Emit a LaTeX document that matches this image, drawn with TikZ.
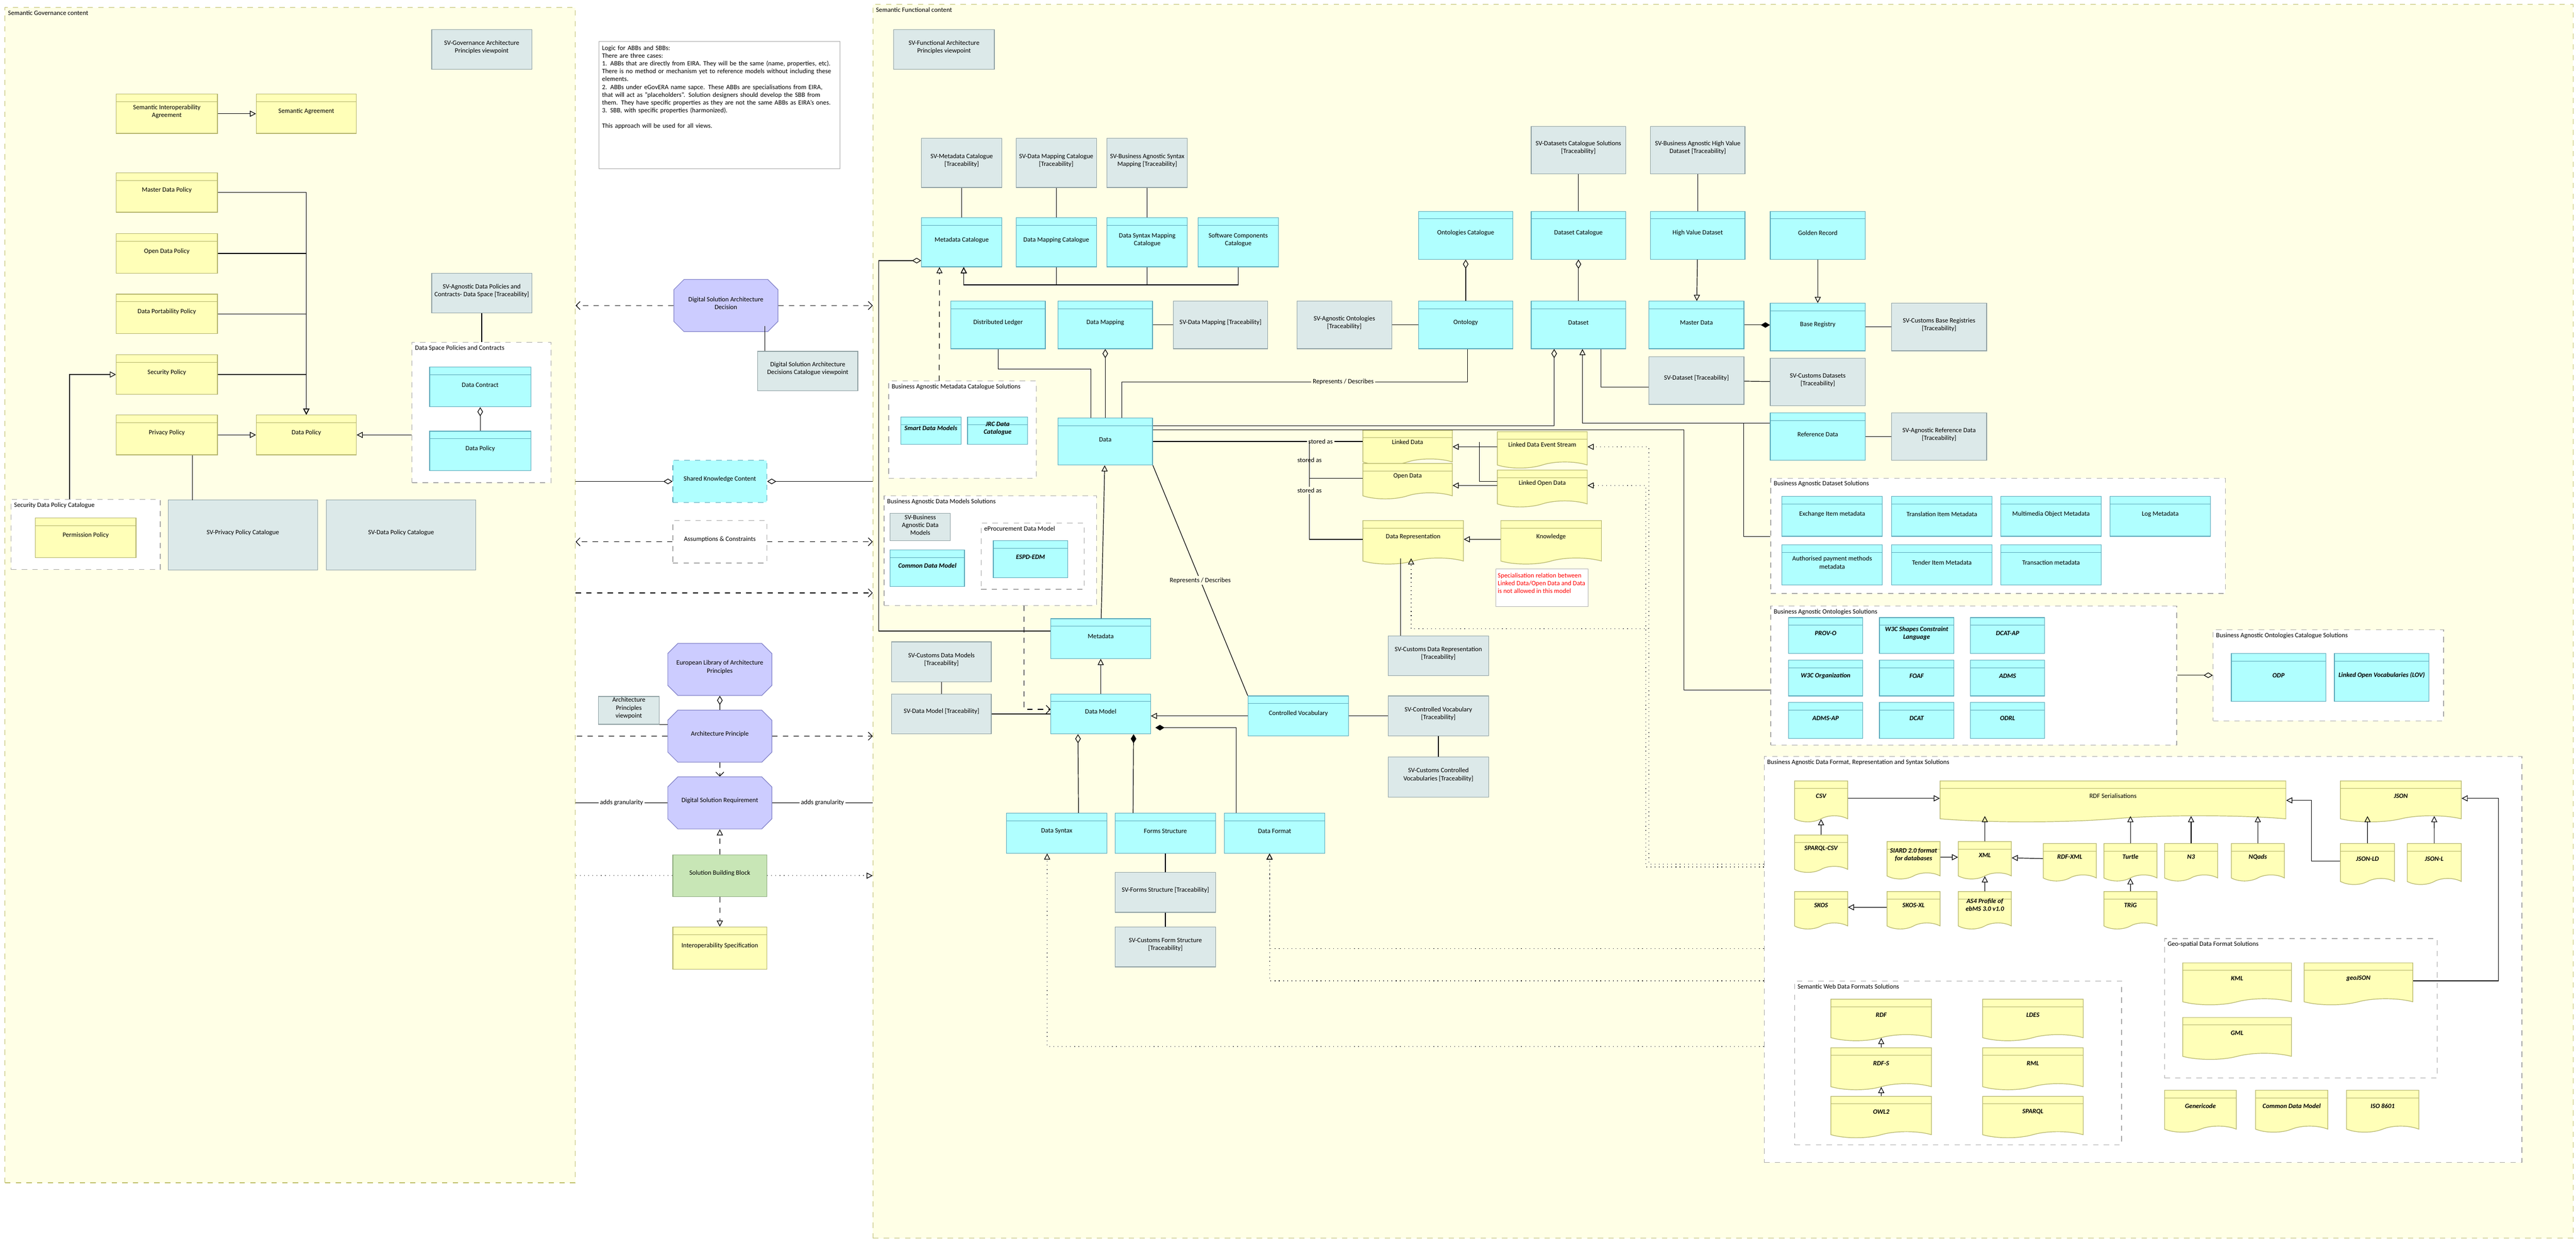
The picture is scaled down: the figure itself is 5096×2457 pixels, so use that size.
\documentclass[tikz,border=0pt]{standalone}
\usepackage{fontspec}
\setmainfont{Carlito}
\usetikzlibrary{arrows.meta,calc,positioning,fit,shapes.symbols,shapes.misc}
\definecolor{cyanf}{HTML}{B0FFFF}
\definecolor{cyand}{HTML}{5AA8BA}
\definecolor{yelf}{HTML}{FFFFB8}
\definecolor{yeld}{HTML}{B4B46A}
\definecolor{svf}{HTML}{DCE9E9}
\definecolor{svd}{HTML}{8FA0A3}
\definecolor{purf}{HTML}{CCCCFF}
\definecolor{purd}{HTML}{8080C8}
\definecolor{grnf}{HTML}{C8E6B6}
\definecolor{grnd}{HTML}{8CAA7C}
\definecolor{bgf}{HTML}{FFFFE6}
\definecolor{bgd}{HTML}{BDBD66}
\tikzstyle{hdr} = [path picture={\draw[line width=0.3pt] ([yshift=-1.5mm]path picture bounding box.north west) -- ([yshift=-1.5mm]path picture bounding box.north east);}]
\tikzstyle{abb} = [draw=cyand, fill=cyanf, inner sep=0pt, align=center, hdr]
\tikzstyle{yel} = [draw=yeld, fill=yelf, inner sep=0pt, align=center, hdr]
\tikzstyle{rep} = [tape, tape bend top=none, tape bend height=1.2mm, draw=yeld, fill=yelf, inner sep=0pt, align=center, hdr]
\tikzstyle{sv} = [draw=svd, fill=svf, inner sep=0pt, align=center]
\tikzstyle{pur} = [chamfered rectangle, chamfered rectangle xsep=1mm, chamfered rectangle ysep=1mm, draw=purd, fill=purf, inner sep=0pt, align=center]
\tikzstyle{grn} = [draw=grnd, fill=grnf, inner sep=0pt, align=center]
\tikzstyle{grp} = [draw=gray!70, dashed, fill=white, inner sep=0pt]
\tikzstyle{grplbl} = [anchor=north west, inner sep=0.6mm]
\tikzstyle{sol} = [font=\fontsize{3.7}{4.4}\selectfont\bfseries\itshape]
\tikzstyle{spec} = [-{Triangle[open,length=1.2mm,width=1.2mm]}]
\tikzstyle{agg} = [{Diamond[open,length=1.8mm,width=1.1mm]}-]
\tikzstyle{comp} = [{Diamond[length=1.8mm,width=1.1mm]}-]
\tikzstyle{dep} = [dashed, -{Straight Barb[length=0.8mm]}]
\begin{document}
\begin{tikzpicture}[x=0.1mm, y=-0.1mm, line width=0.35pt,
  every node/.style={font=\fontsize{3.7}{4.4}\selectfont}]
\useasboundingbox (0,0) rectangle (5096,2457);
% containers
\node[draw=bgd, dashed, fill=bgf, inner sep=0pt, fit={(10,15) (1138,2340)}] (govc) {};
\node[grplbl] (govcl) at (govc.north west) {Semantic Governance content};
\node[draw=bgd, dashed, fill=bgf, inner sep=0pt, fit={(1727,9) (5090,2450)}] (func) {};
\node[grplbl] (funcl) at (func.north west) {Semantic Functional content};
\coordinate (c1173) at (0,1173);
% groups
\node[grp, fit={(815,677) (1090,955)}] (dspc) {};
\node[grplbl] (dspcl) at (dspc.north west) {Data Space Policies and Contracts};
\node[grp, fit={(22,988) (317,1127)}] (sdpc) {};
\node[grplbl] (sdpcl) at (sdpc.north west) {Security Data Policy Catalogue};
\node[grp, fit={(1758,754) (2050,946)}] (bamcs) {};
\node[grplbl] (bamcsl) at (bamcs.north west) {Business Agnostic Metadata Catalogue Solutions};
\node[grp, fit={(1749,981) (2169,1198)}] (badms) {};
\node[grplbl] (badmsl) at (badms.north west) {Business Agnostic Data Models Solutions};
\node[grp, fit={(1941,1035) (2145,1166)}] (eproc) {};
\node[grplbl] (eprocl) at (eproc.north west) {eProcurement Data Model};
\node[grp, fit={(3503,946) (4402,1174)}] (bads) {};
\node[grplbl] (badsl) at (bads.north west) {Business Agnostic Dataset Solutions};
\node[grp, fit={(3503,1199) (4306,1474)}] (baos) {};
\node[grplbl] (baosl) at (baos.north west) {Business Agnostic Ontologies Solutions};
\node[grp, fit={(4378,1246) (4834,1426)}] (baocs) {};
\node[grplbl] (baocsl) at (baocs.north west) {Business Agnostic Ontologies Catalogue Solutions};
\node[grp, fit={(3490,1497) (4989,2300)}] (badf) {};
\node[grplbl] (badfl) at (badf.north west) {Business Agnostic Data Format, Representation and Syntax Solutions};
\node[grp, fit={(4282,1857) (4821,2133)}] (geo) {};
\node[grplbl] (geol) at (geo.north west) {Geo-spatial Data Format Solutions};
\node[grp, fit={(3550,1941) (4197,2265)}] (sw) {};
\node[grplbl] (swl) at (sw.north west) {Semantic Web Data Formats Solutions};
% governance
\node[sv, fit={(854,59) (1052,137)}] (svgov) {SV-Governance Architecture\\Principles viewpoint};
\node[yel, fit={(230,186) (430,264)}] (sia) {Semantic Interoperability\\Agreement};
\node[yel, fit={(507,186) (705,264)}] (sag) {Semantic Agreement};
\node[yel, fit={(230,342) (430,420)}] (mdp) {Master Data Policy};
\node[yel, fit={(230,462) (430,541)}] (odp) {Open Data Policy};
\node[yel, fit={(230,582) (430,660)}] (dpp) {Data Portability Policy};
\node[yel, fit={(230,702) (430,780)}] (secp) {Security Policy};
\node[yel, fit={(230,821) (430,900)}] (prip) {Privacy Policy};
\node[yel, fit={(507,821) (705,900)}] (dpol) {Data Policy};
\node[sv, fit={(854,541) (1052,619)}] (svdpc) {SV-Agnostic Data Policies and\\Contracts- Data Space [Traceability]};
\node[abb, fit={(850,726) (1050,805)}] (dcon) {Data Contract};
\node[abb, fit={(850,853) (1050,931)}] (dpol2) {Data Policy};
\node[yel, fit={(70,1025) (269,1103)}] (perm) {Permission Policy};
\node[sv, fit={(333,989) (628,1128)}] (svppc) {SV-Privacy Policy Catalogue};
\node[sv, fit={(646,989) (941,1128)}] (svdpcat) {SV-Data Policy Catalogue};
% middle
\node[draw=gray!70, fill=white, inner sep=0pt, fit={(1185,82) (1662,334)}] (logic) {};
\node[anchor=north west, text width=46mm, align=left, inner sep=0pt] (logict) at ($(logic.north west)+(6,8)$)
 {Logic for ABBs and SBBs:\\There are three cases:\\1. ABBs that are directly from EIRA. They will be the same (name, properties, etc). There is no method or mechanism yet to reference models without including these elements.\\2. ABBs under eGovERA name sapce. These ABBs are specialisations from EIRA, that will act as "placeholders". Solution designers should develop the SBB from them. They have specific properties as they are not the same ABBs as EIRA's ones.\\3. SBB, with specific properties (harmonized).\\[4.4pt]This approach will be used for all views.};
\node[pur, fit={(1343,563) (1529,646)}] (dsad) {Digital Solution Architecture\\Decision};
\node[sv, fit={(1499,695) (1697,773)}] (dsadv) {Digital Solution Architecture\\Decisions Catalogue viewpoint};
\node[draw=cyand, dashed, fill=cyanf, inner sep=0pt, fit={(1331,911) (1517,994)}] (skc) {Shared Knowledge Content};
\node[draw=gray!70, dashed, fill=white, inner sep=0pt, fit={(1331,1030) (1517,1114)}] (assm) {Assumptions \& Constraints};
\node[pur, fit={(1331,1283) (1517,1366)}] (eula) {European Library of Architecture\\Principles};
\node[sv, fit={(1184,1378) (1304,1433)}] (apv) {Architecture\\Principles\\viewpoint};
\node[pur, fit={(1331,1415) (1517,1498)}] (ap) {Architecture Principle};
\node[pur, fit={(1331,1547) (1517,1630)}] (dsr) {Digital Solution Requirement};
\node[grn, fit={(1331,1691) (1517,1774)}] (sbb) {Solution Building Block};
\node[yel, fit={(1331,1834) (1517,1918)}] (isp) {Interoperability Specification};
% functional
\node[sv, fit={(1768,59) (1967,137)}] (svfap) {SV-Functional Architecture\\Principles viewpoint};
\node[sv, fit={(1823,274) (1982,371)}] (svmc) {SV-Metadata Catalogue\\{[Traceability]}};
\node[sv, fit={(2010,274) (2169,371)}] (svdmc) {SV-Data Mapping Catalogue\\{[Traceability]}};
\node[sv, fit={(2190,274) (2349,371)}] (svbasm) {SV-Business Agnostic Syntax\\Mapping [Traceability]};
\node[abb, fit={(1823,431) (1982,528)}] (mcat) {Metadata Catalogue};
\node[abb, fit={(2010,431) (2169,528)}] (dmcat) {Data Mapping Catalogue};
\node[abb, fit={(2190,431) (2349,528)}] (dsmcat) {Data Syntax Mapping\\Catalogue};
\node[abb, fit={(2370,431) (2529,528)}] (sccat) {Software Components\\Catalogue};
\node[abb, fit={(1881,596) (2068,690)}] (dl) {Distributed Ledger};
\node[abb, fit={(2093,596) (2280,690)}] (dmap) {Data Mapping};
\node[sv, fit={(2321,596) (2508,690)}] (svdm) {SV-Data Mapping [Traceability]};
\node[sv, fit={(2566,596) (2753,690)}] (svao) {SV-Agnostic Ontologies\\{[Traceability]}};
\node[sv, fit={(3029,250) (3216,344)}] (svdcs) {SV-Datasets Catalogue Solutions\\{[Traceability]}};
\node[sv, fit={(3265,250) (3452,344)}] (svhvd) {SV-Business Agnostic High Value\\Dataset [Traceability]};
\node[abb, fit={(2806,418) (2993,513)}] (ocat) {Ontologies Catalogue};
\node[abb, fit={(3029,418) (3216,513)}] (dscat) {Dataset Catalogue};
\node[abb, fit={(3265,418) (3452,513)}] (hvd) {High Value Dataset};
\node[abb, fit={(3502,418) (3690,513)}] (gold) {Golden Record};
\node[abb, fit={(2806,596) (2993,690)}] (onto) {Ontology};
\node[abb, fit={(3029,596) (3216,690)}] (dset) {Dataset};
\node[abb, fit={(3262,596) (3450,690)}] (mdata) {Master Data};
\node[abb, fit={(3502,600) (3690,694)}] (breg) {Base Registry};
\node[sv, fit={(3742,600) (3930,694)}] (svcbr) {SV-Customs Base Registries\\{[Traceability]}};
\node[sv, fit={(3262,706) (3450,800)}] (svds) {SV-Dataset [Traceability]};
\node[sv, fit={(3502,709) (3690,803)}] (svcds) {SV-Customs Datasets\\{[Traceability]}};
\node[abb, fit={(3502,817) (3690,911)}] (refd) {Reference Data};
\node[sv, fit={(3742,817) (3930,911)}] (svard) {SV-Agnostic Reference Data\\{[Traceability]}};
\node[abb, sol, fit={(1782,825) (1901,879)}] (sdm) {Smart Data Models};
\node[abb, sol, fit={(1914,825) (2033,879)}] (jrc) {JRC Data\\Catalogue};
\node[abb, fit={(2093,827) (2280,920)}] (data) {Data};
\node[sv, fit={(1761,1016) (1880,1070)}] (svbadm) {SV-Business\\Agnostic Data\\Models};
\node[abb, sol, fit={(1761,1088) (1908,1160)}] (cdm) {Common Data Model};
\node[abb, sol, fit={(1965,1070) (2112,1143)}] (espd) {ESPD-EDM};
\node[rep, fit={(2696,851) (2873,908)}] (ld) {Linked Data};
\node[rep, fit={(2962,854) (3140,914)}] (ldes) {Linked Data Event Stream};
\node[rep, fit={(2696,917) (2873,975)}] (opd) {Open Data};
\node[rep, fit={(2962,930) (3140,991)}] (lod) {Linked Open Data};
\node[rep, fit={(2696,1030) (2895,1104)}] (drep) {Data Representation};
\node[rep, fit={(2969,1030) (3168,1104)}] (know) {Knowledge};
\node[draw=gray!60, fill=white, inner sep=0pt, fit={(2959,1126) (3142,1200)}] (rednote) {};
\node[anchor=north west, text=red, align=left, inner sep=0pt] (rednotet) at ($(rednote.north west)+(4,8)$) {Specialisation relation between\\Linked Data/Open Data and Data\\is not allowed in this model};
\node[abb, fit={(2079,1224) (2276,1303)}] (meta) {Metadata};
\node[sv, fit={(1764,1270) (1961,1349)}] (svcdm) {SV-Customs Data Models\\{[Traceability]}};
\node[sv, fit={(1764,1373) (1961,1452)}] (svdmod) {SV-Data Model [Traceability]};
\node[abb, fit={(2079,1373) (2276,1452)}] (dmod) {Data Model};
\node[abb, fit={(2469,1377) (2668,1456)}] (cvoc) {Controlled Vocabulary};
\node[sv, fit={(2746,1258) (2945,1337)}] (svcdr) {SV-Customs Data Representation\\{[Traceability]}};
\node[sv, fit={(2746,1377) (2945,1456)}] (svcv) {SV-Controlled Vocabulary\\{[Traceability]}};
\node[sv, fit={(2746,1498) (2945,1577)}] (svccv) {SV-Customs Controlled\\Vocabularies [Traceability]};
\node[abb, fit={(1991,1609) (2190,1688)}] (dsyn) {Data Syntax};
\node[abb, fit={(2206,1609) (2405,1688)}] (fstr) {Forms Structure};
\node[abb, fit={(2422,1609) (2621,1688)}] (dfmt) {Data Format};
\node[sv, fit={(2206,1726) (2405,1805)}] (svfs) {SV-Forms Structure [Traceability]};
\node[sv, fit={(2206,1834) (2405,1913)}] (svcfs) {SV-Customs Form Structure\\{[Traceability]}};
% dataset solutions
\node[abb, fit={(3525,982) (3724,1061)}] (eim) {Exchange Item metadata};
\node[abb, fit={(3742,982) (3941,1061)}] (tim) {Translation Item Metadata};
\node[abb, fit={(3958,982) (4157,1061)}] (mom) {Multimedia Object Metadata};
\node[abb, fit={(4174,982) (4373,1061)}] (logm) {Log Metadata};
\node[abb, fit={(3525,1078) (3724,1157)}] (apm) {Authorised payment methods\\metadata};
\node[abb, fit={(3742,1078) (3941,1157)}] (tenm) {Tender Item Metadata};
\node[abb, fit={(3958,1078) (4157,1157)}] (trm) {Transaction metadata};
% ontologies solutions
\node[abb, sol, fit={(3538,1222) (3685,1293)}] (provo) {PROV-O};
\node[abb, sol, fit={(3718,1222) (3865,1293)}] (shacl) {W3C Shapes Constraint\\Language};
\node[abb, sol, fit={(3898,1222) (4045,1293)}] (dcatap) {DCAT-AP};
\node[abb, sol, fit={(3538,1306) (3685,1377)}] (w3corg) {W3C Organization};
\node[abb, sol, fit={(3718,1306) (3865,1377)}] (foaf) {FOAF};
\node[abb, sol, fit={(3898,1306) (4045,1377)}] (adms) {ADMS};
\node[abb, sol, fit={(3538,1390) (3685,1461)}] (admsap) {ADMS-AP};
\node[abb, sol, fit={(3718,1390) (3865,1461)}] (dcat) {DCAT};
\node[abb, sol, fit={(3898,1390) (4045,1461)}] (odrl) {ODRL};
\node[abb, sol, fit={(4414,1293) (4601,1388)}] (odpn) {ODP};
\node[abb, sol, fit={(4618,1293) (4805,1388)}] (lov) {Linked Open Vocabularies (LOV)};
% data format solutions
\node[rep, sol, fit={(3550,1545) (3655,1614)}] (csv) {CSV};
\node[rep, fit={(3838,1545) (4522,1614)}] (rdfs) {RDF Serialisations};
\node[rep, sol, fit={(4630,1545) (4869,1614)}] (json) {JSON};
\node[rep, sol, fit={(3550,1652) (3655,1714)}] (sparqlcsv) {SPARQL-CSV};
\node[rep, sol, fit={(3733,1665) (3838,1727)}] (siard) {SIARD 2.0 format\\for databases};
\node[rep, sol, fit={(3874,1665) (3979,1727)}] (xml) {XML};
\node[rep, sol, fit={(4042,1669) (4147,1731)}] (rdfxml) {RDF-XML};
\node[rep, sol, fit={(4162,1669) (4267,1731)}] (turtle) {Turtle};
\node[rep, sol, fit={(4282,1669) (4387,1731)}] (nthree) {N3};
\node[rep, sol, fit={(4414,1669) (4519,1731)}] (nquads) {NQads};
\node[rep, sol, fit={(4630,1669) (4737,1738)}] (jsonld) {JSON-LD};
\node[rep, sol, fit={(4762,1669) (4869,1738)}] (jsonl) {JSON-L};
\node[rep, sol, fit={(3550,1764) (3655,1826)}] (skos) {SKOS};
\node[rep, sol, fit={(3733,1764) (3838,1826)}] (skosxl) {SKOS-XL};
\node[rep, sol, fit={(3874,1764) (3979,1826)}] (asfour) {AS4 Profile of\\ebMS 3.0 v1.0};
\node[rep, sol, fit={(4162,1764) (4267,1826)}] (trig) {TRiG};
\node[rep, sol, fit={(4318,1905) (4533,1976)}] (kml) {KML};
\node[rep, sol, fit={(4558,1905) (4773,1976)}] (geojson) {geoJSON};
\node[rep, sol, fit={(4318,2013) (4533,2084)}] (gml) {GML};
\node[rep, sol, fit={(3622,1977) (3821,2047)}] (rdf) {RDF};
\node[rep, sol, fit={(3922,1977) (4121,2047)}] (ldesf) {LDES};
\node[rep, sol, fit={(3622,2073) (3821,2144)}] (rdfschema) {RDF-S};
\node[rep, sol, fit={(3922,2073) (4121,2144)}] (rml) {RML};
\node[rep, sol, fit={(3622,2169) (3821,2239)}] (owltwo) {OWL2};
\node[rep, sol, fit={(3922,2169) (4121,2239)}] (sparql) {SPARQL};
\node[rep, sol, fit={(4282,2157) (4424,2228)}] (gcode) {Genericode};
\node[rep, sol, fit={(4462,2157) (4605,2228)}] (cdmy) {Common Data Model};
\node[rep, sol, fit={(4642,2157) (4785,2228)}] (iso) {ISO 8601};
% governance relations
\draw[spec] (sia) -- (sag);
\draw[spec] (mdp) -| (dpol);
\draw[spec] (odp) -| (dpol);
\draw[spec] (dpp) -| (dpol);
\draw[spec] (secp) -| (dpol);
\draw[spec] (prip) -- (dpol);
\draw[spec] (dspc.west |- dpol.east) -- (dpol.east);
\draw[agg] (dcon) -- (dpol2);
\draw (svdpc) -- (svdpc.south |- dspc.north);
\draw[spec] ($(sdpc.north)+(-32,0)$) |- (secp.west);
\draw ($(prip.south)+(51,0)$) -- ($(prip.south)+(51,89)$);
% cross relations
\draw[dep] (dsad) -- (govc.east |- dsad);
\draw[dep] (dsad) -- (func.west |- dsad);
\draw ($(dsadv.north west)+(15,0)$) -- ($(dsadv.north west)+(15,-49)$);
\draw[agg] (skc.west) -- (govc.east |- skc.west);
\draw[agg] (skc.east) -- (func.west |- skc.east);
\draw[dep] (assm) -- (govc.east |- assm);
\draw[dep] (assm) -- (func.west |- assm);
\draw[dep] (govc.east |- c1173) -- (func.west |- c1173);
\draw[agg] (eula) -- (ap);
\draw (apv.south east) -- (ap.west |- apv.south east);
\draw[dashed] (ap) -- (govc.east |- ap);
\draw[dep] (ap) -- (func.west |- ap);
\draw[dep] (ap) -- (dsr);
\draw (dsr) -- node[fill=white, inner sep=0.3mm] {adds granularity} (govc.east |- dsr);
\draw (dsr) -- node[fill=white, inner sep=0.3mm] {adds granularity} (func.west |- dsr);
\draw[dotted] (sbb) -- (govc.east |- sbb);
\draw[dotted, spec] (sbb) -- (func.west |- sbb);
\draw[dashed, spec] (sbb) -- (dsr);
\draw[dashed, spec] (sbb) -- (isp);
% functional relations
\draw (svmc) -- (mcat);
\draw (svdmc) -- (dmcat);
\draw (svbasm) -- (dsmcat);
\draw[spec] (dmcat.south) |- ($(mcat.south)+(4,35)$) -- ($(mcat.south)+(4,0)$);
\draw[spec] (dsmcat.south) |- ($(mcat.south)+(4,35)$) -- ($(mcat.south)+(4,0)$);
\draw[spec] (sccat.south) |- ($(mcat.south)+(4,35)$) -- ($(mcat.south)+(4,0)$);
\draw[dashed, spec] ($(bamcs.north)+(-46,0)$) -- ($(mcat.south)+(-44,0)$);
\draw[agg] ($(mcat.south west)+(0,-13)$) -- ++(-84,0) |- ($(meta.west)+(0,-15)$);
\draw (dl.south) |- ($(data.north)+(-28,-96)$) -- ($(data.north)+(-28,0)$);
\draw[agg] (dmap) -- (data);
\draw (dmap) -- (svdm);
\draw ($(data.north)+(33,0)$) |- node[pos=0.82, fill=bgf, inner sep=0.3mm] {Represents / Describes} ($(onto.south)+(4,65)$) -- ($(onto.south)+(4,0)$);
\draw (svao) -- (onto);
\draw[agg] (ocat) -- (onto);
\draw[agg] (dscat) -- (dset);
\draw (svdcs) -- (dscat);
\draw (svhvd) -- (hvd);
\draw[spec] (hvd) -- (mdata);
\draw[spec] (gold) -- (breg);
\draw[comp] (breg.west |- mdata.east) -- (mdata.east);
\draw (breg) -- (svcbr);
\draw (refd) -- (svard);
\draw ($(dset.south)+(45,0)$) |- ($(svds.west)+(0,13)$);
\draw (svds) -- (svcds);
\draw[agg] ($(dset.south)+(-48,0)$) |- ($(data.east)+(0,-31)$);
\draw[spec] ($(refd.north west)+(0,21)$) -| ($(dset.south)+(8,0)$);
\draw ($(bads.north west)+(0,116)$) -| ($(refd.north west)+(-52,21)$);
\draw ($(data.east)+(0,-23)$) -| ($(baos.west)+(-171,29)$) -- ($(baos.west)+(0,29)$);
\draw (data.east) -- node[pos=0.8, fill=bgf, inner sep=0.3mm] {stored as} (data.east -| ld.west);
\draw ($(data.east)+(310,0)$) |- node[pos=0.25, fill=bgf, inner sep=0.3mm] {stored as} (opd.west);
\draw ($(data.east)+(310,0)$) |- node[pos=0.25, fill=bgf, inner sep=0.3mm] {stored as} (drep.west);
\draw[spec] (ldes.west) -- (ld.east |- ldes.west);
\draw[spec] (lod.west) -- (opd.east |- lod.west);
\draw ($(lod.west)+(0,-8)$) -| ($(ld.east)+(53,-5)$);
\draw[spec] (know) -- (drep);
\draw[dotted, spec] ($(badf.north west)+(0,213)$) -| ($(ldes.east)+(121,0)$) -- (ldes.east);
\draw[dotted, spec] ($(badf.north west)+(0,219)$) -| ($(lod.east)+(115,0)$) -- (lod.east);
\draw[dotted, spec] ($(ldes.east)+(121,360)$) -| ($(drep.south)+(-4,0)$);
\draw ($(svcdr.north)+(-75,0)$) -- ($(drep.south)+(-25,0)$);
\draw (data.south east) -- node[pos=0.5, fill=bgf, inner sep=0.3mm] {Represents / Describes} (cvoc.north west);
\draw[spec] (meta) -- (data);
\draw[spec] (dmod) -- (meta);
\draw (svcdm) -- (svdmod);
\draw (svdmod) -- (dmod);
\draw[spec] (cvoc) -- (dmod.east |- cvoc.west);
\draw (cvoc) -- (svcv);
\draw (svcv) -- (svccv);
\draw[dashed, -{Straight Barb[length=0.8mm]}] ($(badms.south)+(67,0)$) |- ($(dmod.west)+(0,-9)$);
\draw[agg] ($(dmod.south)+(-45,0)$) -- ($(dsyn.north)+(43,0)$);
\draw[comp] ($(dmod.south)+(65,0)$) -- ($(fstr.north)+(-64,0)$);
\draw[comp] ($(dmod.south east)+(9,-13)$) -| ($(dfmt.north)+(-76,0)$);
\draw (fstr) -- (svfs);
\draw (svfs) -- (svcfs);
\draw[dotted, spec] ($(badf.west)+(0,172)$) -| ($(dsyn.south)+(-19,0)$);
\draw[dotted, spec] ($(badf.west)+(0,-22)$) -| ($(dfmt.south)+(-10,0)$);
\draw[dotted, spec] ($(badf.west)+(0,42)$) -| ($(dfmt.south)+(-10,0)$);
\draw[agg] (baocs.west) -- (baos.east |- baocs.west);
% format relations
\draw[spec] (csv.east) -- (rdfs.west |- csv.east);
\draw[spec] (sparqlcsv) -- (csv);
\draw[spec] (siard) -- (xml);
\draw[spec] (xml.north) -- (xml.north |- rdfs.south);
\draw[spec] (rdfxml) -- (xml);
\draw[spec] (turtle.north) -- (turtle.north |- rdfs.south);
\draw[spec] (nthree.north) -- (nthree.north |- rdfs.south);
\draw[spec] (nquads.north) -- (nquads.north |- rdfs.south);
\draw[spec] (trig) -- (turtle);
\draw[spec] (asfour) -- (xml);
\draw[spec] (skosxl) -- (skos);
\draw[spec] (jsonld) -- (json.south -| jsonld.north);
\draw[spec] (jsonl) -- (json.south -| jsonl.north);
\draw[spec] (jsonld.west) -| ($(rdfs.east)+(50,4)$) -- ($(rdfs.east)+(0,4)$);
\draw[spec] (geojson.east) -| ($(json.east)+(73,0)$) -- (json.east);
\draw[spec] (rdfschema) -- (rdf);
\draw[spec] (owltwo) -- (rdfschema);
\end{tikzpicture}
\end{document}
